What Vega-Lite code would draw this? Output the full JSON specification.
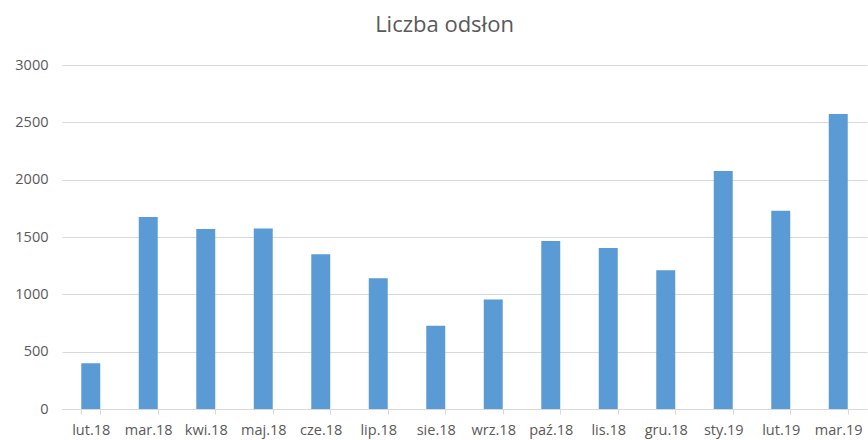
{
  "$schema": "https://vega.github.io/schema/vega-lite/v6.json",
  "width": 805,
  "height": 344,
  "autosize": {"type": "none"},
  "padding": {"left": 62, "top": 65, "right": 1, "bottom": 31},
  "background": "white",
  "title": {
    "text": "Liczba odsłon",
    "font": "Open Sans",
    "fontSize": 22,
    "fontWeight": "normal",
    "color": "#595959",
    "offset": 20,
    "dx": -20
  },
  "config": {"view": {"stroke": null}},
  "data": {
    "values": [
      {"m": "lut.18", "v": 400},
      {"m": "mar.18", "v": 1675},
      {"m": "kwi.18", "v": 1570},
      {"m": "maj.18", "v": 1575},
      {"m": "cze.18", "v": 1350},
      {"m": "lip.18", "v": 1140},
      {"m": "sie.18", "v": 725},
      {"m": "wrz.18", "v": 955},
      {"m": "paź.18", "v": 1465},
      {"m": "lis.18", "v": 1405},
      {"m": "gru.18", "v": 1210},
      {"m": "sty.19", "v": 2075},
      {"m": "lut.19", "v": 1728},
      {"m": "mar.19", "v": 2572}
    ]
  },
  "mark": {"type": "bar", "color": "#5B9BD5"},
  "encoding": {
    "x": {
      "field": "m",
      "type": "nominal",
      "sort": null,
      "scale": {"paddingInner": 0.67, "paddingOuter": 0.335},
      "axis": {
        "title": null,
        "labelAngle": 0,
        "labelFont": "Open Sans",
        "labelFontSize": 14.5,
        "labelColor": "#595959",
        "labelPadding": 9,
        "domainColor": "#d9d9d9",
        "tickColor": "#d9d9d9",
        "tickBand": "extent",
        "tickSize": 5
      }
    },
    "y": {
      "field": "v",
      "type": "quantitative",
      "scale": {"domain": [0, 3000]},
      "axis": {
        "title": null,
        "values": [0, 500, 1000, 1500, 2000, 2500, 3000],
        "format": "d",
        "labelFont": "Open Sans",
        "labelFontSize": 14.5,
        "labelColor": "#595959",
        "labelPadding": 14,
        "domain": false,
        "ticks": false,
        "gridColor": "#d9d9d9"
      }
    }
  }
}
